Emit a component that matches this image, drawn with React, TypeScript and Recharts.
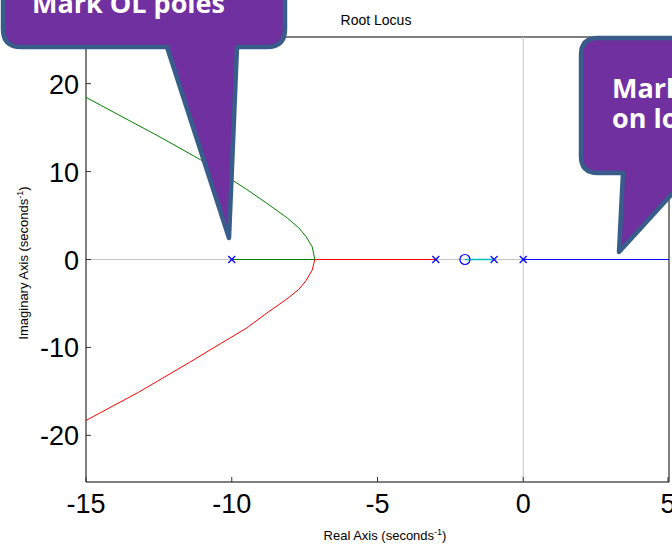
import React from 'react';
import {
  ComposedChart,
  Scatter,
  XAxis,
  YAxis
} from 'recharts';

// axis ranges and tick values
const xRange = [-15, 5];
const yRange = [-25.3, 25.3];
const xTicks = [-15, -10, -5, 0, 5];
const yTicks = [-20, -10, 0, 10, 20];

// locus branches (real / imaginary parts)
const greenRe = [-10, -7.15, -7.24, -7.45, -7.7, -8.1, -8.8, -9.48, -10.2, -11.08, -12.5, -13.8, -15];
const greenIm = [0, 0, 1.44, 2.6, 3.6, 4.73, 6.4, 7.95, 9.5, 11.36, 14.0, 16.3, 18.44];

const redRe = [-3, -7.15, -7.24, -7.45, -7.7, -8.1, -8.8, -9.48, -10.4, -11.45, -13.2, -15];
const redIm = [0, 0, -1.2, -2.4, -3.4, -4.47, -6.1, -7.77, -9.6, -11.7, -15.1, -18.3];

const cyanRe = [-1, -2];
const cyanIm = [0, 0];

const blueRe = [0, 5];
const blueIm = [0, 0];

// open loop poles and zero
const poleRe = [-10, -3, -1, 0];
const poleIm = [0, 0, 0, 0];
const zeroRe = [-2];
const zeroIm = [0];

const toPoints = (re: number[], im: number[]) => re.map((x, i) => ({ x, y: im[i] }));

// light grey real / imaginary axis lines through the origin
const realAxisLine = toPoints(xRange, [0, 0]);
const imagAxisLine = toPoints([0, 0], yRange);

const TICK_FONT = "'Liberation Sans', Arial, sans-serif";

const BottomTick = ({ x, y, payload }: any) => (
  <g>
    <line x1={x} x2={x} y1={y} y2={Number(y) - 5} stroke="#333" />
    <text x={x} y={Number(y) + 31} textAnchor="middle" fontSize={27} fontFamily={TICK_FONT} fill="#000">
      {payload.value}
    </text>
  </g>
);

const TopTick = ({ x, y }: any) => <line x1={x} x2={x} y1={y} y2={Number(y) + 5} stroke="#333" />;

const LeftTick = ({ x, y, payload }: any) => (
  <g>
    <line x1={x} x2={Number(x) + 5} y1={y} y2={y} stroke="#333" />
    <text x={Number(x) - 7} y={Number(y) + 10} textAnchor="end" fontSize={27} fontFamily={TICK_FONT} fill="#000">
      {payload.value}
    </text>
  </g>
);

const RightTick = ({ x, y }: any) => <line x1={x} x2={Number(x) - 5} y1={y} y2={y} stroke="#333" />;

const NoMark = () => null;

const PoleMark = ({ cx, cy }: any) => (
  <g stroke="#0000ff" strokeWidth={1.2}>
    <line x1={cx - 3.5} y1={cy - 3.5} x2={cx + 3.5} y2={cy + 3.5} />
    <line x1={cx - 3.5} y1={cy + 3.5} x2={cx + 3.5} y2={cy - 3.5} />
  </g>
);

const ZeroMark = ({ cx, cy }: any) => (
  <circle cx={cx} cy={cy} r={5} fill="none" stroke="#0000ff" strokeWidth={1.2} />
);

// one locus branch drawn as a joined line through its points
const branch = (name: string, data: { x: number; y: number }[], color: string, width = 1) => (
  <Scatter
    key={name}
    name={name}
    data={data}
    dataKey="y"
    fill={color}
    line={{ stroke: color, strokeWidth: width, fill: 'none' }}
    lineType="joint"
    lineJointType="linear"
    shape={<NoMark />}
    isAnimationActive={false}
  />
);

export default function App() {
  return (
    <div style={{ position: 'absolute', left: 0, top: 0, width: 672, height: 544, overflow: 'hidden', background: '#fff' }}>
      <ComposedChart width={672} height={544} margin={{ top: 27, right: 0, bottom: 32, left: 26 }}>
        <XAxis
          dataKey="x"
          type="number"
          domain={xRange}
          ticks={xTicks}
          height={30}
          tickSize={0}
          tickMargin={0}
          tickLine={false}
          tick={<BottomTick />}
          axisLine={{ stroke: '#000' }}
          allowDataOverflow
        />
        <XAxis
          xAxisId="top"
          orientation="top"
          type="number"
          domain={xRange}
          ticks={xTicks}
          height={10}
          tickSize={0}
          tickMargin={0}
          tickLine={false}
          tick={<TopTick />}
          axisLine={{ stroke: '#000' }}
        />
        <YAxis
          type="number"
          domain={yRange}
          ticks={yTicks}
          width={60}
          tickSize={0}
          tickMargin={0}
          tickLine={false}
          tick={<LeftTick />}
          axisLine={{ stroke: '#000' }}
          allowDataOverflow
        />
        <YAxis
          yAxisId="right"
          orientation="right"
          type="number"
          domain={yRange}
          ticks={yTicks}
          width={3}
          tickSize={0}
          tickMargin={0}
          tickLine={false}
          tick={<RightTick />}
          axisLine={{ stroke: '#000' }}
        />
        {branch('re-axis', realAxisLine, '#c4c4c4')}
        {branch('im-axis', imagAxisLine, '#c4c4c4')}
        {branch('green', toPoints(greenRe, greenIm), '#008000')}
        {branch('red', toPoints(redRe, redIm), '#ff0000')}
        {branch('cyan', toPoints(cyanRe, cyanIm), '#00bfbf', 1.5)}
        {branch('blue', toPoints(blueRe, blueIm), '#0000ff')}
        <Scatter name="poles" data={toPoints(poleRe, poleIm)} dataKey="y" shape={<PoleMark />} isAnimationActive={false} />
        <Scatter name="zero" data={toPoints(zeroRe, zeroIm)} dataKey="y" shape={<ZeroMark />} isAnimationActive={false} />
      </ComposedChart>

      {/* title, axis labels and the two callouts */}
      <svg width={672} height={544} style={{ position: 'absolute', left: 0, top: 0 }}>
        <g fontFamily={TICK_FONT} fill="#000">
          <text x={376} y={25} textAnchor="middle" fontSize={14}>Root Locus</text>
          <text x={385} y={540} textAnchor="middle" fontSize={13}>
            Real Axis (seconds<tspan dy={-5} fontSize={9}>-1</tspan><tspan dy={5}>)</tspan>
          </text>
          <text transform="translate(28,263) rotate(-90)" textAnchor="middle" fontSize={13}>
            Imaginary Axis (seconds<tspan dy={-5} fontSize={9}>-1</tspan><tspan dy={5}>)</tspan>
          </text>
        </g>
        <g fill="#7030a0" stroke="#385d8a" strokeWidth={4.5} strokeLinejoin="round">
          <path d="M 3,-40 L 3,29 Q 3,47 21,47 L 167,47 L 229,238 L 237,47 L 267,47 Q 285,47 285,29 L 285,-40 Z" />
          <path d="M 900,38 L 598,38 Q 581,38 581,55 L 581,156 Q 581,173 598,173 L 623,173 L 619,252 L 691,173 L 900,173 Z" />
        </g>
        <g fontFamily="'Open Sans', sans-serif" fontWeight="bold" fontSize={27} fill="#fff">
          <text x={32} y={13}>Mark OL poles</text>
          <text x={612} y={98}>Mark points</text>
          <text x={612} y={128}>on locus</text>
        </g>
      </svg>
    </div>
  );
}
